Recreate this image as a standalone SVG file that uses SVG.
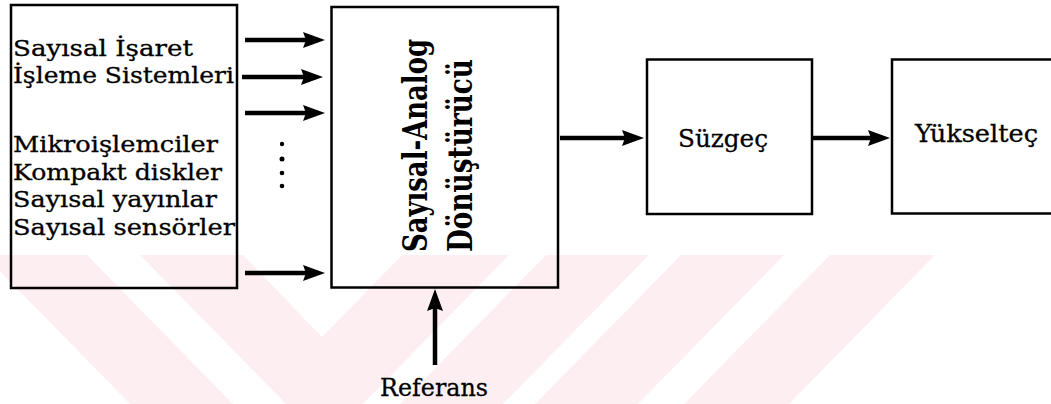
<svg xmlns="http://www.w3.org/2000/svg" width="1051" height="404" viewBox="0 0 1051 404">
<style>
.bg{fill:#ffffff}
.wm{fill:#fdeff1}
.box{fill:none;stroke:#000;stroke-width:2.5}
.txt{font-family:"DejaVu Serif","Liberation Serif",serif;fill:#000;stroke:#000;stroke-width:0.3}
.lt{font-size:22px}
.vt{font-size:34px;font-weight:bold;stroke-width:0}
.bt{font-size:24px}
.ar{stroke:#000;stroke-width:4.5;fill:none;marker-end:url(#ah)}
.dot{fill:#000}
</style>
<defs>
<marker id="ah" markerUnits="userSpaceOnUse" markerWidth="24" markerHeight="18" refX="12" refY="8" orient="auto" overflow="visible">
<path d="M0,0 L22,8 L0,16 L3,8 Z" fill="#000"/>
</marker>
</defs>
<rect class="bg" x="0" y="0" width="1051" height="404"/>
<g id="watermark">
<polygon class="wm" points="-16,255 87,255 233,404 130,404"/>
<polygon class="wm" points="140,255 243,255 322,337 402,255 509,255 363,404 286,404"/>
<polygon class="wm" points="546,255 649,255 503,404 400,404"/>
<polygon class="wm" points="681,255 784,255 638,404 535,404"/>
<polygon class="wm" points="830,255 935,255 789,404 684,404"/>
</g>
<g id="sources">
<rect class="box" x="11" y="5" width="226" height="283" stroke-width="2"/>
<text class="txt lt" x="13" y="56" textLength="180" lengthAdjust="spacingAndGlyphs">Sayısal  İşaret</text>
<text class="txt lt" x="13" y="83" textLength="221" lengthAdjust="spacingAndGlyphs">İşleme Sistemleri</text>
<text class="txt lt" x="13" y="152" textLength="205" lengthAdjust="spacingAndGlyphs">Mikroişlemciler</text>
<text class="txt lt" x="13" y="180" textLength="209" lengthAdjust="spacingAndGlyphs">Kompakt diskler</text>
<text class="txt lt" x="13" y="207" textLength="204" lengthAdjust="spacingAndGlyphs">Sayısal yayınlar</text>
<text class="txt lt" x="13" y="235" textLength="222" lengthAdjust="spacingAndGlyphs">Sayısal sensörler</text>
</g>
<g id="dots">
<circle class="dot" cx="282" cy="144" r="2.2"/>
<circle class="dot" cx="282" cy="159" r="2.5"/>
<circle class="dot" cx="282" cy="173" r="2.3"/>
<circle class="dot" cx="282" cy="186" r="2.3"/>
</g>
<g id="dac">
<rect class="box" x="331.5" y="7" width="226.5" height="280.5"/>
<text class="txt vt" transform="translate(427,252) rotate(-90)" x="0" y="0" textLength="213" lengthAdjust="spacingAndGlyphs">Sayısal-Analog</text>
<text class="txt vt" transform="translate(472,252) rotate(-90)" x="0" y="0" textLength="193" lengthAdjust="spacingAndGlyphs">Dönüştürücü</text>
</g>
<g id="filter">
<rect class="box" x="647" y="59.5" width="165" height="154.5"/>
<text class="txt bt" x="678" y="147" textLength="90" lengthAdjust="spacingAndGlyphs">Süzgeç</text>
</g>
<g id="amplifier">
<rect class="box" x="892" y="59.5" width="170" height="154"/>
<text class="txt bt" x="915" y="142" textLength="123" lengthAdjust="spacingAndGlyphs">Yükselteç</text>
</g>
<g id="reference">
<text class="txt bt" x="380" y="396" textLength="108" lengthAdjust="spacingAndGlyphs">Referans</text>
</g>
<g id="connectors">
<line class="ar" x1="245" y1="40" x2="315" y2="40"/>
<line class="ar" x1="242" y1="77" x2="313" y2="77"/>
<line class="ar" x1="245" y1="113" x2="315" y2="113"/>
<line class="ar" x1="245" y1="273" x2="315" y2="273"/>
<line class="ar" x1="560" y1="138" x2="634" y2="138"/>
<line class="ar" x1="813" y1="138" x2="880" y2="138"/>
<line class="ar" x1="435" y1="365" x2="435" y2="299"/>
</g>
</svg>
